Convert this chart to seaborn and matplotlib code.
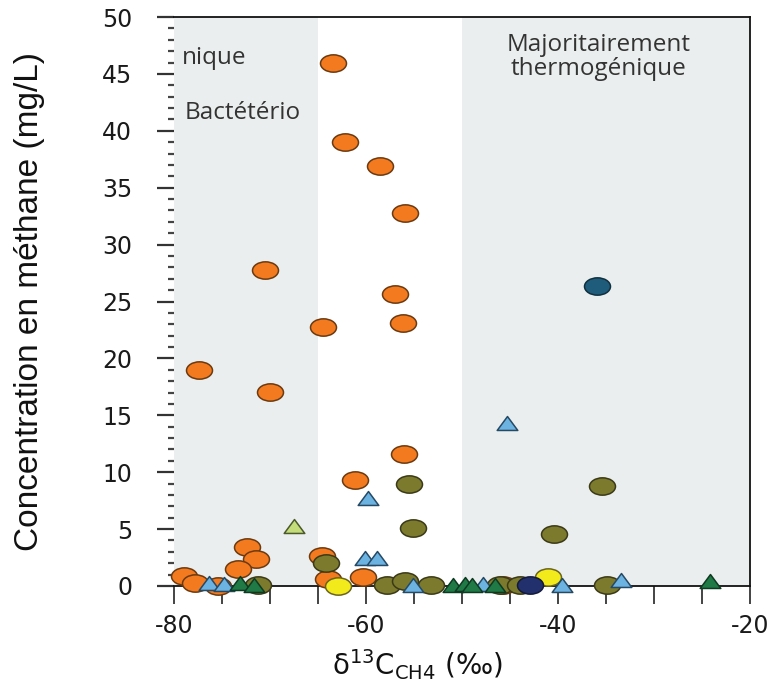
import matplotlib
matplotlib.use("Agg")
import matplotlib.pyplot as plt
import seaborn as sns
import pandas as pd
from matplotlib.path import Path
from matplotlib.ticker import MultipleLocator
from matplotlib import font_manager

# --- data: delta13C of methane (per mil) and methane concentration (mg/L) ---
orange_x = [-63.4, -62.2, -58.5, -55.9, -70.5, -57.0, -56.1, -64.5, -77.4, -70.0,
            -56.0, -61.1, -72.4, -71.5, -73.3, -64.6, -64.0, -60.3, -79.0, -77.8,
            -75.4, -45.7]
orange_y = [46.0, 39.0, 36.9, 32.8, 27.8, 25.7, 23.1, 22.8, 19.0, 17.05,
            11.6, 9.3, 3.4, 2.4, 1.5, 2.6, 0.6, 0.8, 0.9, 0.25,
            0.0, 0.1]

olive_x = [-55.5, -35.45, -55.1, -40.4, -64.2, -71.2, -57.8, -55.9, -53.2, -46.0, -44.0, -34.9]
olive_y = [8.95, 8.8, 5.1, 4.6, 2.0, 0.1, 0.1, 0.4, 0.1, 0.1, 0.1, 0.1]

yellow_x = [-62.9, -41.0]
yellow_y = [0.0, 0.8]

navy_x = [-42.9]
navy_y = [0.1]

teal_x = [-35.9]
teal_y = [26.4]

ltblue_x = [-45.3, -59.8, -60.1, -58.9, -76.4, -74.8, -55.1, -47.8, -39.6, -33.4]
ltblue_y = [14.3, 7.7, 2.5, 2.5, 0.3, 0.2, 0.1, 0.2, 0.1, 0.5]

ltgreen_x = [-67.5]
ltgreen_y = [5.3]

dkgreen_x = [-73.1, -71.7, -50.9, -49.7, -49.0, -46.6, -24.2]
dkgreen_y = [0.25, 0.1, 0.1, 0.2, 0.1, 0.1, 0.4]

x_ticks = [-80, -60, -40, -20]
y_ticks = [0, 5, 10, 15, 20, 25, 30, 35, 40, 45, 50]

# --- marker shapes: wide ellipse and wide triangle ---
_c = Path.unit_circle()
ellipse = Path(_c.vertices * [1.5, 1.0], _c.codes)
triangle = Path([(0, 1), (-1.48, -1), (1.48, -1), (0, 1)],
                [Path.MOVETO, Path.LINETO, Path.LINETO, Path.CLOSEPOLY])

groups = [
    # name, xs, ys, marker, size, face, edge
    ("orange", orange_x, orange_y, ellipse, 350, "#f47a1f", "#6b3a10"),
    ("olive", olive_x, olive_y, ellipse, 350, "#7c7a2c", "#3b3a18"),
    ("yellow", yellow_x, yellow_y, ellipse, 350, "#f3ea1c", "#6a6420"),
    ("navy", navy_x, navy_y, ellipse, 350, "#23306e", "#141a3a"),
    ("teal", teal_x, teal_y, ellipse, 350, "#1f5c7c", "#10303f"),
    ("ltblue", ltblue_x, ltblue_y, triangle, 220, "#6db3e2", "#254a66"),
    ("ltgreen", ltgreen_x, ltgreen_y, triangle, 220, "#c4dc7a", "#4a5a2a"),
    ("dkgreen", dkgreen_x, dkgreen_y, triangle, 220, "#1f7a46", "#0f3a22"),
]

sns.set_theme(style="ticks")
plt.rcParams["font.family"] = ["DejaVu Sans"]

fig = plt.figure(figsize=(7.77, 6.84), dpi=100)
ax = fig.add_axes([0.2239, 0.1433, 0.7414, 0.8318])

# shaded source domains
ax.axvspan(-80, -65, color="#ebeeee", zorder=0, lw=0)
ax.axvspan(-50, -20, color="#ebeeee", zorder=0, lw=0)

for name, xs, ys, mk, sz, face, edge in groups:
    df = pd.DataFrame({"d13C": xs, "CH4": ys})
    sns.scatterplot(data=df, x="d13C", y="CH4", marker=mk, s=sz, color=face,
                    edgecolor=edge, linewidth=1.1, clip_on=False, zorder=4,
                    legend=False, ax=ax)

ax.set_xlim(-80, -20)
ax.set_ylim(0, 50)
ax.set_xticks(x_ticks)
ax.set_xticklabels([str(v) for v in x_ticks])
ax.xaxis.set_minor_locator(MultipleLocator(5))
ax.set_yticks(y_ticks)
ax.set_yticklabels([str(v) for v in y_ticks])
ax.yaxis.set_minor_locator(MultipleLocator(1))

ax.tick_params(axis="x", which="both", direction="out", length=13, width=1.1,
               color="#111111")
ax.tick_params(axis="x", which="major", pad=7, labelsize=17, labelcolor="#1a1a1a")
ax.tick_params(axis="y", which="major", direction="out", length=12, width=1.6,
               color="#333333", pad=18, labelsize=17, labelcolor="#1a1a1a")
ax.tick_params(axis="y", which="minor", direction="out", length=4, width=1.6,
               color="#444444")

ax.spines["left"].set_visible(False)
for side in ("top", "right", "bottom"):
    ax.spines[side].set_color("#111111")
    ax.spines[side].set_linewidth(1.3)

# axis titles
try:
    font_manager.findfont("Liberation Sans Narrow", fallback_to_default=False)
    ylab_family, ylab_size = "Liberation Sans Narrow", 29
except ValueError:
    ylab_family, ylab_size = "Liberation Sans", 24
ax.set_ylabel("Concentration en méthane (mg/L)", family=ylab_family,
              fontsize=ylab_size, color="#111111")
ax.yaxis.set_label_coords(-0.25, 0.5)
ax.yaxis.label.set_verticalalignment("center")

ax.set_xlabel("δ$^{13}$C$_{\\mathregular{CH4}}$ (‰)", fontsize=20,
              color="#111111")
ax.xaxis.set_label_coords(0.4236, -0.108)

# domain annotations
txt = dict(family=["Open Sans", "DejaVu Sans"], color="#333333", fontsize=17.5)
ax.text(-35.8, 46.5, "Majoritairement\nthermogénique", ha="center", va="center",
        linespacing=1.0, **txt)
ax.text(-79.2, 46.4, "nique", ha="left", va="center", **txt)
ax.text(-78.85, 41.6, "Bactétério", ha="left", va="center", **txt)

fig.savefig("out.png", dpi=100)
